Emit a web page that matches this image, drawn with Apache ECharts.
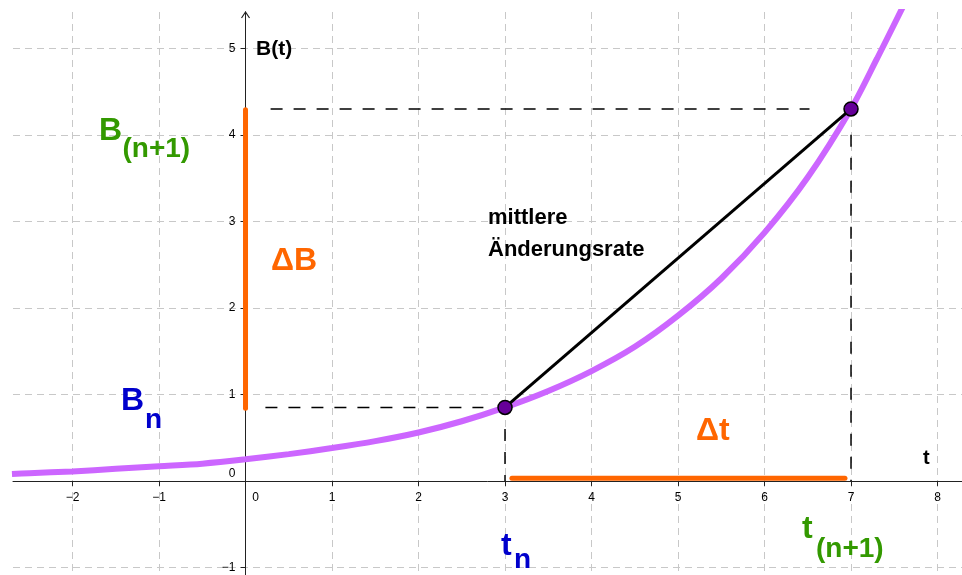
<!DOCTYPE html>
<html>
<head>
<meta charset="utf-8">
<script src="https://cdn.jsdelivr.net/npm/echarts@6/dist/echarts.min.js"></script>
<style>
  html, body { margin: 0; padding: 0; background: #fff; }
  #chart { width: 962px; height: 575px; }
</style>
</head>
<body>
<div id="chart"></div>
<script>
// growth curve B(t)
const curveT = [-2.7, -2.5, -2, -1.5, -1, -0.5, 0, 0.5, 1, 1.5, 2, 2.5, 3, 3.5, 4, 4.5, 5, 5.5, 6, 6.5, 7, 7.3, 7.6];
const curveB = [0.08, 0.09, 0.11, 0.14, 0.17, 0.2, 0.25, 0.31, 0.38, 0.46, 0.56, 0.69, 0.85, 1.04, 1.27, 1.55, 1.91, 2.34, 2.87, 3.51, 4.3, 4.88, 5.48];

// the two points on the curve
const tn = 3, bn = 0.85;
const tn1 = 7, bn1 = 4.3;

// dashed guide segments [t1, b1, t2, b2]
const guides = [
  [0.29, 4.3, 6.52, 4.3],
  [0.23, 0.85, 2.75, 0.85],
  [3, 0.6, 3, 0],
  [7, 4.0, 7, 0]
];

// orange delta bars
const deltaB = [[0, 0.84], [0, 4.29]];
const deltaT = [[3.08, 0.03], [6.93, 0.03]];

// axis ticks
const xTicks = [-2, -1, 0, 1, 2, 3, 4, 5, 6, 7, 8];
const yTicks = [-1, 0, 1, 2, 3, 4, 5];

const xMin = -2.688, xMax = 8.283;
const yMin = -1.087, yMax = 5.42;

const FONT = '"Liberation Sans", Arial, sans-serif';
const green = '#339900';
const blue = '#0000cc';
const orange = '#ff6600';

// plot area
const W = 962, H = 575;
const gLeft = 13, gTop = 12;
const gW = W - gLeft, gH = H - gTop;
// move the axes onto the zero lines
const xAxisOffset = -(0 - yMin) / (yMax - yMin) * gH;
const yAxisOffset = -(0 - xMin) / (xMax - xMin) * gW;

function fmt(v) {
  if (Math.abs(v - Math.round(v)) > 1e-6) return '';
  if (v === 0) return '{z|0}';
  return v < 0 ? '\u2212' + (-v) : String(v);
}

const chart = echarts.init(document.getElementById('chart'));

function txt(text, x, y, size, color, weight) {
  return {
    type: 'text',
    x: x,
    y: y,
    z: 200,
    style: {
      text: text,
      fill: color,
      font: (weight || 'bold') + ' ' + size + 'px ' + FONT,
      textAlign: 'left',
      align: 'left',
      textVerticalAlign: 'middle',
      verticalAlign: 'middle'
    }
  };
}

const series = [
  {
    type: 'line',
    data: curveT.map((t, i) => [t, curveB[i]]),
    smooth: 0.3,
    showSymbol: false,
    lineStyle: { color: '#cc66ff', width: 6 },
    z: 3
  }
];

guides.forEach(g => {
  series.push({
    type: 'line',
    data: [[g[0], g[1]], [g[2], g[3]]],
    showSymbol: false,
    lineStyle: { color: '#000', width: 1.5, type: [12, 11] },
    z: 2
  });
});

series.push({
  type: 'line',
  data: deltaB,
  showSymbol: false,
  lineStyle: { color: orange, width: 5, cap: 'round' },
  z: 4
});
series.push({
  type: 'line',
  data: deltaT,
  showSymbol: false,
  lineStyle: { color: orange, width: 5, cap: 'round' },
  z: 4
});

series.push({
  type: 'line',
  data: [[tn, bn], [tn1, bn1]],
  showSymbol: false,
  lineStyle: { color: '#000', width: 3 },
  z: 5
});

series.push({
  type: 'scatter',
  data: [[tn, bn], [tn1, bn1]],
  symbolSize: 14,
  itemStyle: { color: '#660099', borderColor: '#000', borderWidth: 1.5, opacity: 1 },
  z: 6
});

const option = {
  animation: false,
  grid: { left: gLeft, top: gTop, width: gW, height: gH, containLabel: false, outerBoundsMode: 'none' },
  xAxis: {
    type: 'value',
    min: xMin,
    max: xMax,
    position: 'bottom',
    offset: xAxisOffset,
    axisLine: { onZero: false, lineStyle: { color: '#222', width: 1 } },
    axisTick: { show: true, length: 5, customValues: xTicks, lineStyle: { color: '#222' } },
    axisLabel: {
      show: true,
      margin: 11,
      color: '#000',
      fontSize: 12,
      fontFamily: FONT,
      customValues: xTicks,
      formatter: fmt,
      rich: { z: { padding: [0, 0, 0, 20], fontSize: 12, color: '#000', fontFamily: FONT } }
    },
    splitLine: { show: true, lineStyle: { color: '#c8c8c8', width: 1, type: [7, 5] } }
  },
  yAxis: {
    type: 'value',
    min: yMin,
    max: yMax,
    position: 'left',
    offset: yAxisOffset,
    axisLine: { onZero: false, lineStyle: { color: '#222', width: 1 } },
    axisTick: { show: true, length: 5, customValues: yTicks, lineStyle: { color: '#222' } },
    axisLabel: {
      show: true,
      margin: 10,
      color: '#000',
      fontSize: 12,
      fontFamily: FONT,
      customValues: yTicks,
      formatter: fmt,
      rich: { z: { padding: [0, 0, 14, 0], fontSize: 12, color: '#000', fontFamily: FONT } }
    },
    splitLine: { show: true, lineStyle: { color: '#c8c8c8', width: 1, type: [7, 5] } }
  },
  series: series,
  graphic: [
    txt('B(t)', 256, 49, 21, '#000'),
    txt('t', 923, 458, 20, '#000'),
    txt('mittlere', 488, 218, 22, '#000'),
    txt('\u00c4nderungsrate', 488, 250, 22, '#000'),
    txt('\u0394B', 271, 261, 32, orange),
    txt('\u0394t', 696, 431, 32, orange),
    txt('B', 99, 131, 32, green),
    txt('(n+1)', 122.5, 149, 28, green),
    txt('B', 121, 401, 32, blue),
    txt('n', 145, 420, 28, blue),
    txt('t', 501, 546, 32, blue),
    txt('n', 514, 560, 28, blue),
    txt('t', 802, 529, 32, green),
    txt('(n+1)', 816, 549, 28, green)
  ]
};

chart.setOption(option);

// open arrow head at the top of the B axis
const tip = chart.convertToPixel({ gridIndex: 0 }, [0, yMax]);
chart.setOption({
  graphic: [
    {
      id: 'arrow',
      type: 'polyline',
      shape: { points: [[tip[0] - 4, tip[1] + 6], [tip[0], tip[1]], [tip[0] + 4, tip[1] + 6]] },
      style: { stroke: '#222', lineWidth: 1.2, fill: null },
      z: 150
    }
  ]
});
</script>
</body>
</html>
